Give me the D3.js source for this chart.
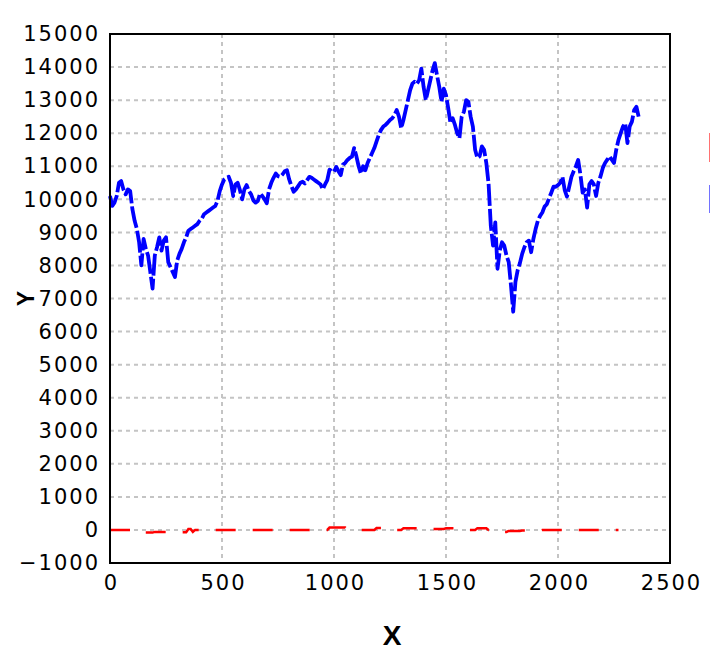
<!DOCTYPE html>
<html><head><meta charset="utf-8">
<script src="https://cdn.jsdelivr.net/npm/d3@7"></script>
<style>
html,body{margin:0;padding:0;background:#fff;}
svg{display:block;}
</style></head>
<body>
<script>
// ---- data ----
const xStep = 10; // sample spacing along x
const blueValues = [
10100,9800,9900,10100,10500,10550,10300,10150,10300,10250,
9700,9350,9100,8700,8000,8800,8500,8300,7800,7300,
8300,8550,8850,8450,8750,8850,8100,7950,7800,7650,
8150,8350,8500,8700,8850,9050,9100,9150,9200,9250,
9350,9420,9550,9600,9650,9700,9750,9800,9950,10250,
10450,10600,10650,10680,10500,10100,10450,10500,10280,10000,
10300,10430,10250,10150,9970,9900,9950,10180,10100,10000,
9880,10300,10500,10650,10780,10700,10680,10750,10850,10880,
10600,10400,10230,10300,10400,10500,10530,10480,10580,10680,
10650,10600,10550,10500,10450,10300,10450,10580,10900,10850,
10830,10980,10850,10730,11050,11100,11190,11250,11290,11550,
11300,11000,10780,11000,10880,11100,11250,11400,11550,11750,
11950,12100,12200,12250,12320,12400,12450,12550,12700,12500,
12150,12400,12700,13000,13300,13500,13560,13500,13600,13950,
13400,13000,13300,13600,13900,14120,13750,13400,12950,13350,
13150,12750,12300,12450,12250,12000,11850,12500,12650,13000,
12950,12500,12200,11500,11250,11300,11600,11500,11100,10480,
9200,8600,9300,7900,8450,8700,8600,8300,8100,7400,
6600,7500,7860,8070,8350,8550,8700,8750,8400,8800,
9100,9350,9500,9600,9780,9850,10030,10200,10380,10380,
10430,10500,10680,10280,10080,10380,10680,10850,11000,11190,
10750,10200,10300,9750,10450,10550,10450,10100,10500,10700,
10950,11100,11200,11300,11200,11100,11500,11800,12000,12200,
12300,11700,12200,12350,12700,12800,12500
];
const redValues = [
0,0,0,0,0,0,0,0,0,0,
0,0,0,-80,-80,-80,-80,-80,-80,-80,
-60,-60,-60,-60,-60,-60,-60,-60,-60,-60,
-70,-70,-70,-70,-70,30,30,-60,0,0,
0,0,0,0,0,0,0,0,0,0,
0,0,0,0,0,0,0,0,0,0,
0,0,0,0,0,0,0,0,0,0,
0,0,0,0,0,0,0,0,0,0,
0,0,0,0,0,0,0,0,0,0,
0,0,0,0,0,0,0,0,70,70,
70,70,70,70,70,70,0,0,0,0,
0,0,0,0,0,0,0,0,0,60,
60,60,60,0,0,0,0,0,0,0,
0,50,50,50,50,50,50,50,50,50,
50,30,30,30,30,30,30,30,30,30,
50,50,50,50,50,50,0,0,0,0,
0,0,0,0,50,50,50,50,50,0,
0,0,0,-60,-60,-60,-60,-60,-30,-30,
-30,-30,-30,-30,-20,-20,-20,-20,-20,-20,
-20,-20,-20,0,0,0,0,0,0,0,
0,0,0,0,0,0,0,0,0,0,
0,0,0,0,0,0,0,0,0,0,
0,0,0,0,0,0,0,0
];
const xTicks = [0, 500, 1000, 1500, 2000, 2500];
const yTicks = [-1000,0,1000,2000,3000,4000,5000,6000,7000,8000,9000,10000,11000,12000,13000,14000,15000];
const xDomain = [0, 2500];
const yDomain = [-1000, 15000];
const xLabel = "X", yLabel = "Y";

// ---- layout ----
const W = 710, H = 666;
const L = 110, R = 670, T = 34, B = 563;

const svg = d3.select("body").append("svg").attr("width", W).attr("height", H);
const x = d3.scaleLinear().domain(xDomain).range([L, R]);
const y = d3.scaleLinear().domain(yDomain).range([B, T]);

// grid
const grid = svg.append("g").attr("stroke", "#c4c4c4").attr("stroke-width", 2).attr("stroke-dasharray", "4,4");
grid.selectAll("line.h").data(yTicks).join("line")
  .attr("x1", L).attr("x2", R).attr("y1", d => y(d)).attr("y2", d => y(d));
grid.selectAll("line.v").data(xTicks.slice(1, -1)).join("line")
  .attr("y1", T).attr("y2", B).attr("x1", d => x(d)).attr("x2", d => x(d));

// axes labels via d3 axes (no tick lines)
const font = "'DejaVu Sans', sans-serif";
const yAxis = svg.append("g").attr("transform", `translate(${L},0)`)
  .call(d3.axisLeft(y).tickValues(yTicks).tickSize(0).tickPadding(10).tickFormat(d => d < 0 ? "\u2212" + Math.abs(d) : String(d)));
yAxis.select(".domain").remove();
yAxis.selectAll("text").attr("font-family", font).attr("font-size", 21).attr("letter-spacing", "2px").attr("fill", "#000");

const xAxis = svg.append("g").attr("transform", `translate(0,${B})`)
  .call(d3.axisBottom(x).tickValues(xTicks).tickSize(0).tickPadding(12).tickFormat(d => String(d)));
xAxis.select(".domain").remove();
xAxis.selectAll("text").attr("font-family", font).attr("font-size", 21).attr("letter-spacing", "2px").attr("fill", "#000").attr("dx", "1px");

// lines
const pts = vals => vals.map((v, i) => [i * xStep, v]);
const line = d3.line().x(d => x(d[0])).y(d => y(d[1]));

svg.append("path").datum(pts(redValues)).attr("d", line)
  .attr("fill", "none").attr("stroke", "#ff0000").attr("stroke-width", 2.5)
  .attr("stroke-dasharray", "20,17");
svg.append("path").datum(pts(blueValues)).attr("d", line)
  .attr("fill", "none").attr("stroke", "#0000ff").attr("stroke-width", 3.8)
  .attr("stroke-linejoin", "round").attr("stroke-dasharray", "22,3");

// frame
svg.append("rect").attr("x", L).attr("y", T).attr("width", R - L).attr("height", B - T)
  .attr("fill", "none").attr("stroke", "#000").attr("stroke-width", 2);

// axis titles
svg.append("text").attr("x", (L + R) / 2 + 2).attr("y", 645).attr("text-anchor", "middle")
  .attr("font-family", "'Liberation Sans', Arial, sans-serif").attr("font-weight", "bold").attr("font-size", 28).text(xLabel);
svg.append("text").attr("transform", `translate(34,${(T + B) / 2}) rotate(-90)`).attr("text-anchor", "middle")
  .attr("font-family", "'Liberation Sans', Arial, sans-serif").attr("font-weight", "bold").attr("font-size", 23).text(yLabel);

// clipped legend fragments at right edge
const legendKeys = [{c: "#ff0000", y0: 133, y1: 162}, {c: "#0000ff", y0: 185, y1: 213}];
svg.selectAll("line.leg").data(legendKeys).join("line")
  .attr("x1", 709.5).attr("x2", 709.5).attr("y1", d => d.y0).attr("y2", d => d.y1)
  .attr("stroke", d => d.c).attr("stroke-width", 1).attr("opacity", 0.55);
</script>
</body></html>
